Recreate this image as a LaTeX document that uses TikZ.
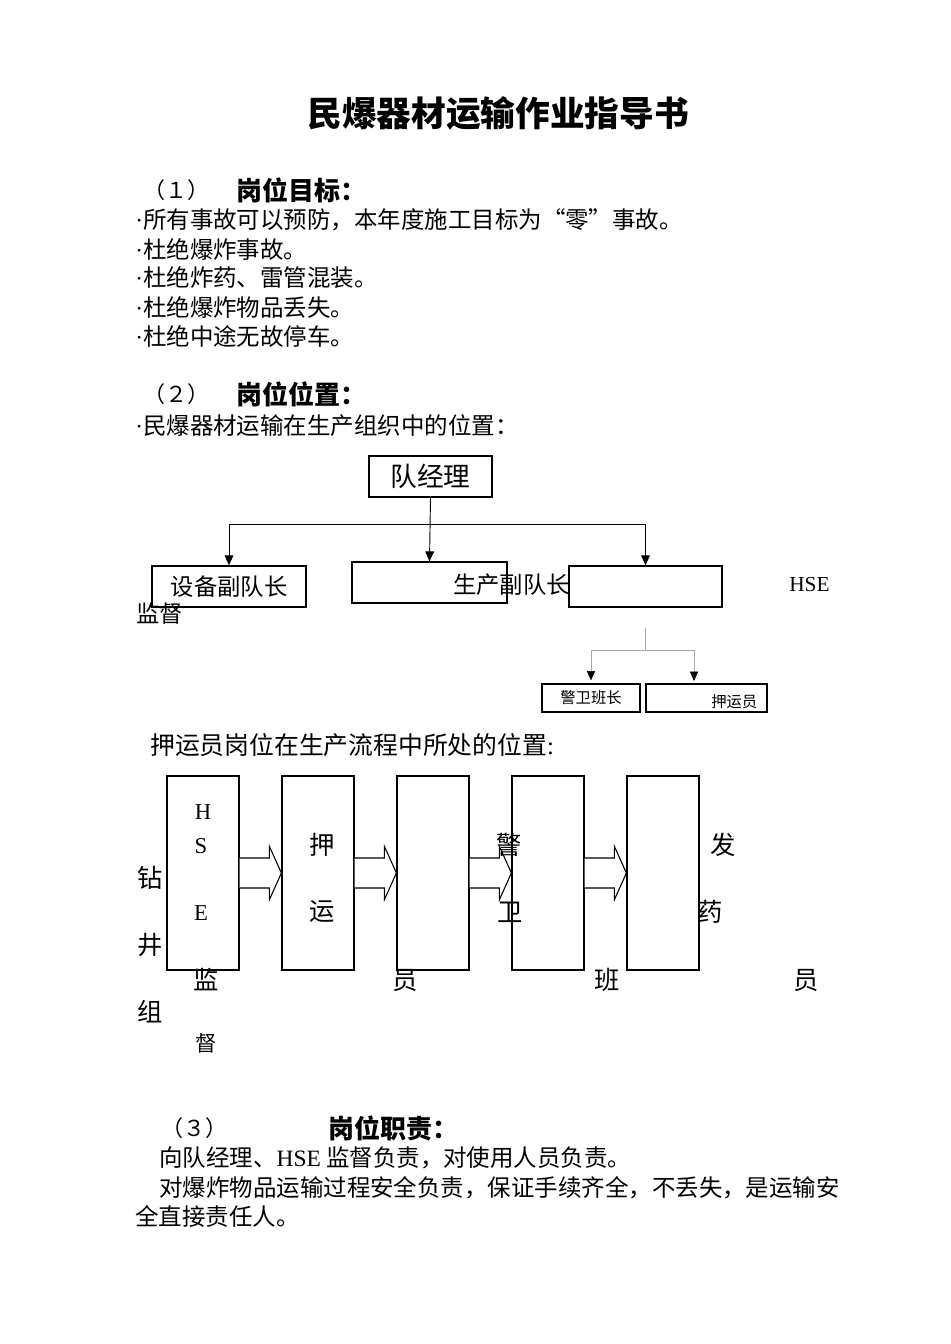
\documentclass[tikz,border=0pt]{standalone}
\usepackage{fontspec}
\setmainfont{Liberation Serif}
\newfontfamily\cjk{Noto Sans CJK SC}
\usepackage{tikz}
\usetikzlibrary{
  arrows.meta,
  calc,
}
\newcommand{\dotb}{{\rmfamily ·}}

\begin{document}
\begin{tikzpicture}[
  x=0.75pt, y=-0.75pt,
  >={Triangle[length=7.5pt,width=6.5pt]},
  txt/.style={anchor=west, inner sep=0pt, font=\cjk\fontsize{17.6}{20}\selectfont},
  head/.style={txt, font=\cjk\bfseries\fontsize{19.5}{22}\selectfont},
  num/.style={txt, font=\cjk\fontsize{16.5}{19}\selectfont},
  big/.style={inner sep=0pt, font=\cjk\fontsize{19}{22}\selectfont},
  latin/.style={inner sep=0pt, font=\rmfamily\fontsize{17}{20}\selectfont},
  box/.style={draw, line width=0.9pt, inner sep=0pt, align=center},
  orgbox/.style={box, minimum height=41*0.75pt},
  flowbox/.style={box, minimum width=72*0.75pt, minimum height=194*0.75pt},
  tip/.style={->, line width=0.7pt},
  gtip/.style={-{Triangle[length=7pt,width=6pt,color=black]}, line width=0.4pt, draw=gray!70},
]
  \useasboundingbox (0,0) rectangle (950,1344);

  % Title and section 1
  \node[inner sep=0pt, font=\cjk\bfseries\fontsize{26}{30}\selectfont] (title) at (498,113) {民爆器材运输作业指导书};
  \node[num]  (n1) at (143,190) {（１）};
  \node[head] (h1) at (236,190) {岗位目标：};
  \node[txt] (g1) at (135,220) {\dotb 所有事故可以预防，本年度施工目标为“零”事故。};
  \node[txt] (g2) at (135,249) {\dotb 杜绝爆炸事故。};
  \node[txt] (g3) at (135,278) {\dotb 杜绝炸药、雷管混装。};
  \node[txt] (g4) at (135,307) {\dotb 杜绝爆炸物品丢失。};
  \node[txt] (g5) at (135,336) {\dotb 杜绝中途无故停车。};

  % Section 2
  \node[num]  (n2) at (143,394) {（２）};
  \node[head] (h2) at (236,394) {岗位位置：};
  \node[txt] (p1) at (135,426) {\dotb 民爆器材运输在生产组织中的位置：};

  % Organisation chart
  \node[orgbox, minimum width=123*0.75pt, font=\cjk\fontsize{20}{22}\selectfont] (mgr) at (430.5,476.5) {队经理};
  \node[orgbox, minimum width=154*0.75pt, font=\cjk\fontsize{17.5}{20}\selectfont] (equip) at (229,586.5) {设备副队长};
  \node[orgbox, minimum width=155*0.75pt] (prod) at (429.5,582.5) {};
  \node[orgbox, minimum width=153*0.75pt] (hse) at (645.5,586.5) {};
  \node[txt, font=\cjk\fontsize{17.5}{20}\selectfont] (prodlbl) at (453,585) {生产副队长};
  \node[latin, anchor=west, font=\rmfamily\fontsize{16}{19}\selectfont] (hselbl) at (789,585) {HSE};
  \node[txt, font=\cjk\fontsize{17.5}{20}\selectfont] (suplbl) at (136,614) {监督};

  \coordinate (bus) at (430,524);
  \draw[tip] (mgr.south) -- (prod.north);
  \draw[line width=0.7pt] (bus -| equip.north) -- (bus -| hse.north);
  \draw[tip] (bus -| equip.north) -- (equip.north);
  \draw[tip] (bus -| hse.north) -- (hse.north);

  \node[box, minimum width=98*0.75pt, minimum height=28*0.75pt, font=\cjk\fontsize{11.5}{13}\selectfont] (guard) at (591,698) {警卫班长};
  \node[box, minimum width=121*0.75pt, minimum height=28*0.75pt] (esc) at (706.5,698) {};
  \node[txt, font=\cjk\fontsize{11.5}{13}\selectfont] (esclbl) at (711,702) {押运员};
  \coordinate (hsefoot) at (645,628);
  \coordinate (gbus) at (645,650);
  \coordinate (escin) at (694,681);
  \draw[gray!70, line width=0.4pt] (hsefoot) -- (gbus);
  \draw[gray!70, line width=0.4pt] (gbus -| guard.north) -- (gbus -| escin);
  \draw[gtip] (gbus -| guard.north) -- ($(guard.north)+(0,-3)$);
  \draw[gtip] (gbus -| escin) -- (escin);

  % Process flow
  \node[txt, font=\cjk\fontsize{18.6}{21}\selectfont] (p2) at (150,745) {押运员岗位在生产流程中所处的位置{\rmfamily :}};
  \foreach \i/\x in {1/203, 2/318, 3/433, 4/548, 5/663}
    \node[flowbox] (f\i) at (\x,873) {};
  \foreach \a/\b in {f1/f2, f2/f3, f3/f4, f4/f5}
    \draw[line width=0.8pt, fill=white]
      let \p1=(\a.east), \p2=(\b.west) in
      (\x1,\y1+11.25pt) -- (\x2-9pt,\y1+11.25pt) -- (\x2-9pt,\y1+20pt) --
      (\x2,\y1) -- (\x2-9pt,\y1-20pt) -- (\x2-9pt,\y1-11.25pt) --
      (\x1,\y1-11.25pt);

  \node[big] (c1) at (150,878) {钻};
  \node[big] (c2) at (150,945) {井};
  \node[big] (c3) at (150,1012) {组};
  \node[latin] (s1) at (203,812) {H};
  \node[latin] (s2) at (201,846) {S};
  \node[latin] (s3) at (201,913) {E};
  \node[big] (s4) at (206,980) {监};
  \node[big, font=\cjk\fontsize{16}{19}\selectfont] (s5) at (206,1043) {督};
  \node[big] (e1) at (322,845) {押};
  \node[big] (e2) at (322,912) {运};
  \node[big] (e3) at (405,980) {员};
  \node[big] (w1) at (509,845) {警};
  \node[big] (w2) at (510,912) {卫};
  \node[big] (w3) at (607,980) {班};
  \node[big] (d1) at (723,845) {发};
  \node[big] (d2) at (710,912) {药};
  \node[big] (d3) at (806,980) {员};

  % Section 3
  \node[num]  (n3) at (161,1128) {（３）};
  \node[head] (h3) at (328,1128) {岗位职责：};
  \node[txt] (r1) at (159,1158) {向队经理、{\rmfamily HSE} 监督负责，对使用人员负责。};
  \node[txt] (r2) at (159,1188) {对爆炸物品运输过程安全负责，保证手续齐全，不丢失，是运输安};
  \node[txt] (r3) at (135,1216) {全直接责任人。};
\end{tikzpicture}
\end{document}
